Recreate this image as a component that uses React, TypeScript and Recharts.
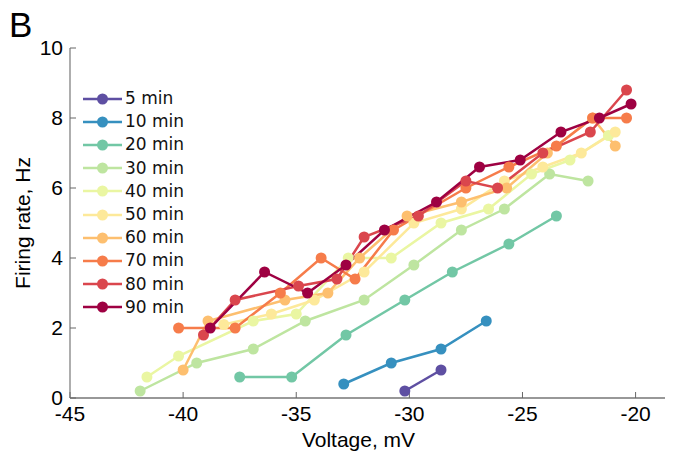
import { LineChart, Line, XAxis, YAxis, Legend } from 'recharts';

// firing rate vs holding voltage, one curve per recording time
const labels = ['5 min', '10 min', '20 min', '30 min', '40 min', '50 min', '60 min', '70 min', '80 min', '90 min'];
const colors = ['#5e4fa2', '#3690bf', '#72c7a5', '#bee5a0', '#eaf6a2', '#fde99a', '#fdbf6f', '#f67c4a', '#da464d', '#9e0142'];

const volt5 = [-30.2, -28.6];
const rate5 = [0.2, 0.8];

const volt10 = [-32.9, -30.8, -28.6, -26.6];
const rate10 = [0.4, 1.0, 1.4, 2.2];

const volt20 = [-37.5, -35.2, -32.8, -30.2, -28.1, -25.6, -23.5];
const rate20 = [0.6, 0.6, 1.8, 2.8, 3.6, 4.4, 5.2];

const volt30 = [-41.9, -39.4, -36.9, -34.6, -32.0, -29.8, -27.7, -25.8, -23.8, -22.1];
const rate30 = [0.2, 1.0, 1.4, 2.2, 2.8, 3.8, 4.8, 5.4, 6.4, 6.2];

const volt40 = [-41.6, -40.2, -36.9, -35.0, -32.7, -30.8, -28.6, -26.5, -24.6, -22.9, -21.2];
const rate40 = [0.6, 1.2, 2.2, 2.4, 4.0, 4.0, 5.0, 5.4, 6.4, 6.8, 7.5];

const volt50 = [-38.2, -36.1, -34.2, -32.0, -29.8, -27.7, -25.8, -24.1, -22.4, -20.9];
const rate50 = [2.1, 2.4, 2.8, 3.6, 5.0, 5.4, 6.2, 6.6, 7.0, 7.6];

const volt60 = [-40.0, -38.9, -35.5, -33.6, -32.2, -30.1, -27.7, -25.7, -23.9, -21.9, -20.9];
const rate60 = [0.8, 2.2, 2.8, 3.0, 4.0, 5.2, 5.6, 6.0, 7.0, 8.0, 7.2];

const volt70 = [-40.2, -37.7, -35.7, -33.9, -32.4, -30.7, -27.5, -25.6, -23.5, -21.9, -20.4];
const rate70 = [2.0, 2.0, 3.0, 4.0, 3.4, 4.8, 6.0, 6.6, 7.2, 8.0, 8.0];

const volt80 = [-39.1, -37.7, -34.9, -33.2, -32.0, -29.6, -27.5, -26.1, -24.1, -22.0, -20.4];
const rate80 = [1.8, 2.8, 3.2, 3.4, 4.6, 5.2, 6.2, 6.0, 7.0, 7.6, 8.8];

const volt90 = [-38.8, -36.4, -34.5, -32.8, -31.1, -28.8, -26.9, -25.1, -23.3, -21.6, -20.2];
const rate90 = [2.0, 3.6, 3.0, 3.8, 4.8, 5.6, 6.6, 6.8, 7.6, 8.0, 8.4];

const xTicks = [-45, -40, -35, -30, -25, -20];
const yTicks = [0, 2, 4, 6, 8, 10];

const volts = [volt5, volt10, volt20, volt30, volt40, volt50, volt60, volt70, volt80, volt90];
const rates = [rate5, rate10, rate20, rate30, rate40, rate50, rate60, rate70, rate80, rate90];

const series = labels.map((name, i) => ({
  name,
  color: colors[i],
  data: volts[i].map((v, j) => ({ v, rate: rates[i][j] })),
}));

const axisFont = '"Liberation Sans", Arial, sans-serif';

function LegendBox() {
  return (
    <div style={{ fontFamily: '"DejaVu Sans", sans-serif', fontSize: 17, color: '#111' }}>
      {series.map((s) => (
        <div key={s.name} style={{ display: 'flex', alignItems: 'center', height: 23.2 }}>
          <svg width={42} height={14}>
            <line x1={1} y1={7} x2={40} y2={7} stroke={s.color} strokeWidth={2.5} />
            <circle cx={20.5} cy={7} r={5.5} fill={s.color} />
          </svg>
          <span style={{ marginLeft: 1, lineHeight: '23px' }}>{s.name}</span>
        </div>
      ))}
    </div>
  );
}

export default function App() {
  return (
    <div style={{ position: 'absolute', left: 0, top: 0, width: 679, height: 458, background: '#fff' }}>
      <div style={{ position: 'absolute', left: 9, top: 5, fontFamily: axisFont, fontSize: 35, color: '#000' }}>B</div>
      <LineChart width={679} height={458} margin={{ top: 48, right: 14, bottom: 0, left: 10 }}>
        <XAxis
          type="number"
          dataKey="v"
          domain={[-45, -18.7]}
          ticks={xTicks}
          allowDataOverflow
          height={60}
          tickSize={-6}
          tickMargin={14}
          axisLine={{ stroke: '#333', strokeWidth: 1.2 }}
          tickLine={{ stroke: '#666' }}
          tick={{ fill: '#000', fontSize: 21, fontFamily: axisFont }}
          label={{ value: 'Voltage, mV', position: 'insideBottom', offset: 11, dx: -9, fill: '#000', fontSize: 21, fontFamily: axisFont }}
        />
        <YAxis
          type="number"
          dataKey="rate"
          domain={[0, 10]}
          ticks={yTicks}
          width={60}
          tickSize={-6}
          tickMargin={13}
          axisLine={{ stroke: '#777', strokeWidth: 1.2 }}
          tickLine={{ stroke: '#666' }}
          tick={{ fill: '#000', fontSize: 21, fontFamily: axisFont }}
          label={{ value: 'Firing rate, Hz', angle: -90, position: 'insideLeft', offset: 13, fill: '#000', fontSize: 21, fontFamily: axisFont, style: { textAnchor: 'middle' } }}
        />
        <Legend
          layout="vertical"
          align="center"
          verticalAlign="middle"
          content={() => <LegendBox />}
          wrapperStyle={{ left: 82, top: 87, width: 'auto', height: 'auto' }}
        />
        {series.map((s) => (
          <Line
            key={s.name}
            name={s.name}
            data={s.data}
            dataKey="rate"
            stroke={s.color}
            strokeWidth={2.5}
            dot={{ r: 5.5, fill: s.color, stroke: 'none', strokeWidth: 0 }}
            activeDot={false}
            isAnimationActive={false}
          />
        ))}
      </LineChart>
    </div>
  );
}
